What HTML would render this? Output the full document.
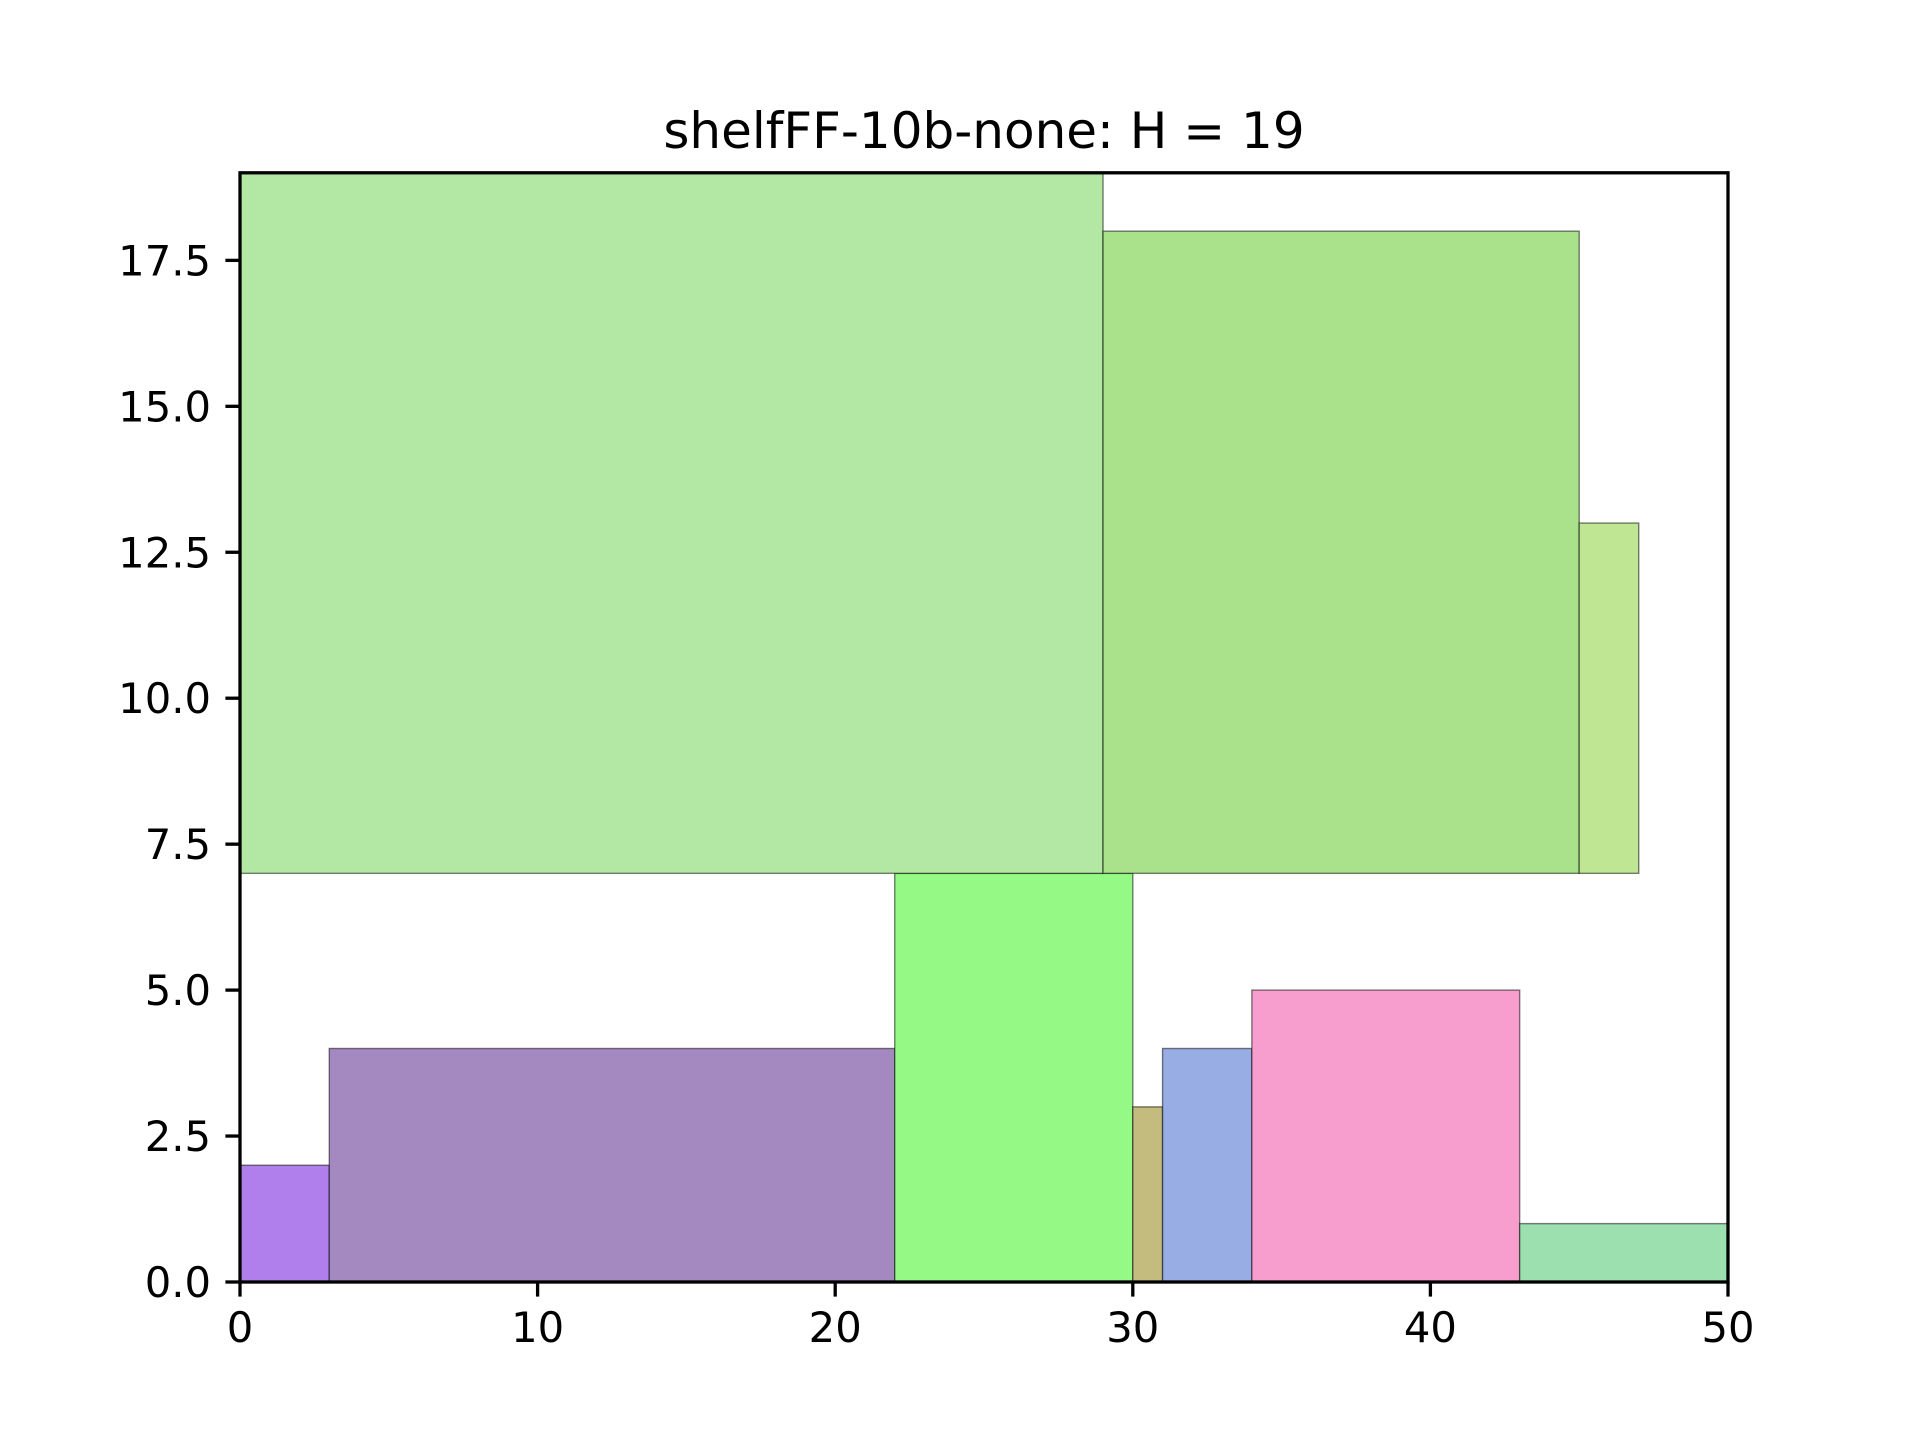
<!DOCTYPE html>
<html><head><meta charset="utf-8"><style>
html,body{margin:0;padding:0;background:#fff;}
svg{display:block;font-family:"DejaVu Sans","Liberation Sans",sans-serif;}
</style></head><body>
<svg id="chart" width="1920" height="1440" viewBox="0 0 1920 1440" xmlns="http://www.w3.org/2000/svg">
<rect width="1920" height="1440" fill="#fff"/>
<text x="984" y="148" font-size="50" text-anchor="middle" fill="#000">shelfFF-10b-none: H = 19</text>
<g id="rects"></g>
<g id="axes"></g>
</svg>
<script>
const rectX = [0, 3, 22, 30, 31, 34, 43, 0, 29, 45];
const rectY = [0, 0, 0, 0, 0, 0, 0, 7, 7, 7];
const rectW = [3, 19, 8, 1, 3, 9, 7, 29, 16, 2];
const rectH = [2, 4, 7, 3, 4, 5, 1, 12, 11, 6];
const rectColors = ['#b07fec', '#a389c0', '#94f985', '#c4bb7e', '#98ade3', '#f89ecf', '#9be0ae', '#b3e8a4', '#a9e28b', '#bfe692'];
const xTicks = [0, 10, 20, 30, 40, 50];
const yTicks = [0, 2.5, 5, 7.5, 10, 12.5, 15, 17.5];
const yTickLabels = ['0.0', '2.5', '5.0', '7.5', '10.0', '12.5', '15.0', '17.5'];
const xMax = 50, yMax = 19;

const L = 240, R = 1728, T = 172.8, B = 1282;
const sx = v => L + v / xMax * (R - L);
const sy = v => B - v / yMax * (B - T);
const NS = 'http://www.w3.org/2000/svg';
const rg = document.getElementById('rects');
const ag = document.getElementById('axes');

for (let i = 0; i < rectX.length; i++) {
  const r = document.createElementNS(NS, 'rect');
  
  
  r.setAttribute('x', sx(rectX[i]));
  r.setAttribute('y', sy(rectY[i] + rectH[i]));
  r.setAttribute('width', sx(rectX[i] + rectW[i]) - sx(rectX[i]));
  r.setAttribute('height', sy(rectY[i]) - sy(rectY[i] + rectH[i]));
  r.setAttribute('fill', rectColors[i]);
  r.setAttribute('stroke', 'rgba(0,0,0,0.5)');
  r.setAttribute('stroke-width', '1.4');
  rg.appendChild(r);
}

const frame = document.createElementNS(NS, 'rect');


frame.setAttribute('x', L); frame.setAttribute('y', T);
frame.setAttribute('width', R - L); frame.setAttribute('height', B - T);
frame.setAttribute('fill', 'none'); frame.setAttribute('stroke', '#000');
frame.setAttribute('stroke-width', '3.3');
ag.appendChild(frame);

xTicks.forEach(v => {
  const l = document.createElementNS(NS, 'line');
  
  
  l.setAttribute('x1', sx(v)); l.setAttribute('x2', sx(v));
  l.setAttribute('y1', B); l.setAttribute('y2', B + 14.6);
  l.setAttribute('stroke', '#000'); l.setAttribute('stroke-width', '3.3');
  ag.appendChild(l);
  const t = document.createElementNS(NS, 'text');
  
  
  t.setAttribute('x', sx(v)); t.setAttribute('y', B + 60);
  t.setAttribute('font-size', '41.7'); t.setAttribute('text-anchor', 'middle');
  t.textContent = String(v);
  ag.appendChild(t);
});

yTicks.forEach((v, i) => {
  const l = document.createElementNS(NS, 'line');
  
  
  l.setAttribute('x1', L - 14.6); l.setAttribute('x2', L);
  l.setAttribute('y1', sy(v)); l.setAttribute('y2', sy(v));
  l.setAttribute('stroke', '#000'); l.setAttribute('stroke-width', '3.3');
  ag.appendChild(l);
  const t = document.createElementNS(NS, 'text');
  
  
  t.setAttribute('x', L - 29); t.setAttribute('y', sy(v) + 15);
  t.setAttribute('font-size', '41.7'); t.setAttribute('text-anchor', 'end');
  t.textContent = yTickLabels[i];
  ag.appendChild(t);
});
</script>
</body></html>
